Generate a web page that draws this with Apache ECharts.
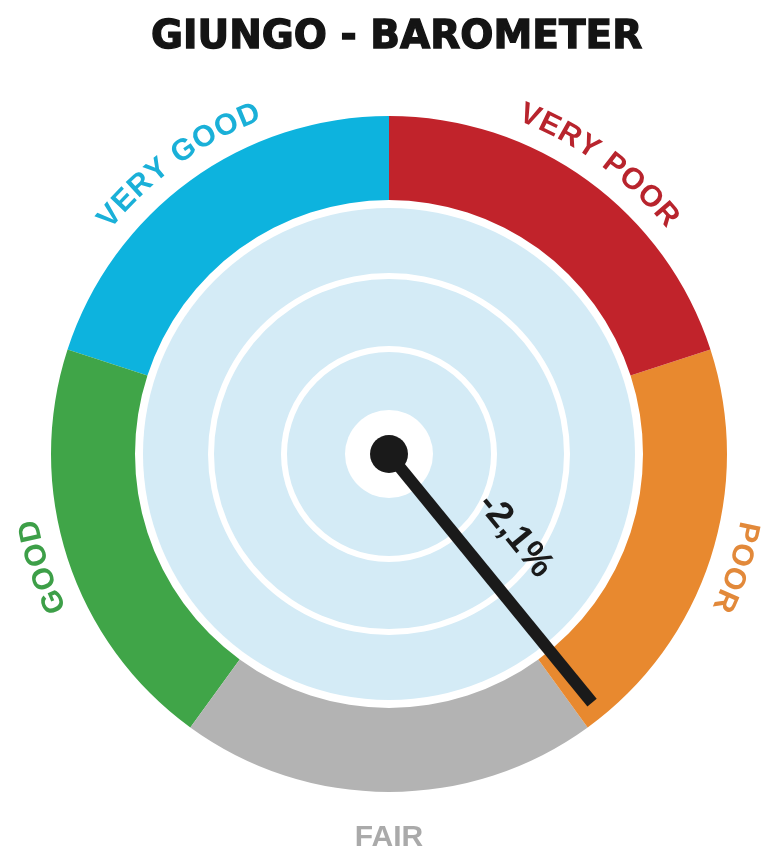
<!DOCTYPE html>
<html>
<head>
<meta charset="utf-8">
<script src="https://cdn.jsdelivr.net/npm/echarts@6/dist/echarts.min.js"></script>
<style>
html,body{margin:0;padding:0;background:#fff;}
#chart{width:765px;height:848px;}
</style>
</head>
<body>
<div id="chart"></div>
<script>
// ---- data ----
const titleText = 'GIUNGO - BAROMETER';
const categories = ['VERY POOR', 'POOR', 'FAIR', 'GOOD', 'VERY GOOD'];
const bandShares = [1, 1, 1, 1, 1];
const bandColors = ['#c1232b', '#e8892f', '#b3b3b3', '#40a548', '#0db3de'];
const labelColors = ['#b8242d', '#e2893a', '#aaaaaa', '#3d9f48', '#1ab0d8'];
const needleValue = 1.955;          // position on the 0–5 dial scale
const needleLabel = '-2,1%';
const ringRadii = [105, 178];       // white concentric guide rings

// ---- layout ----
const CX = 389, CY = 454;
const R_OUT = 338, R_IN = 254, R_DISK = 246, R_HUB = 44;
const LABEL_R = 366;
const labelFont = 'bold 30px "Liberation Sans", Arial, sans-serif';

const chart = echarts.init(document.getElementById('chart'));

const total = bandShares.reduce((a, b) => a + b, 0);
let acc = 0;
const stops = bandShares.map((v, i) => { acc += v; return [acc / total, bandColors[i]]; });

const ctx = document.createElement('canvas').getContext('2d');
ctx.font = labelFont;

function curvedText(text, midDeg, r, color) {
  const spacing = 1.5;
  const widths = Array.from(text).map(ch => ctx.measureText(ch).width + spacing);
  const totalW = widths.reduce((a, b) => a + b, 0) - spacing;
  const els = [];
  let pos = 0;
  Array.from(text).forEach((ch, i) => {
    const c = pos + (widths[i] - spacing) / 2;
    pos += widths[i];
    const a = midDeg * Math.PI / 180 + (totalW / 2 - c) / r;
    els.push({
      type: 'text',
      z: 100,
      x: CX + r * Math.cos(a),
      y: CY - r * Math.sin(a),
      rotation: a - Math.PI / 2,
      silent: true,
      style: {
        text: ch, fill: color, font: labelFont,
        align: 'center', verticalAlign: 'middle'
      }
    });
  });
  return els;
}

const graphics = [];
acc = 0;
categories.forEach((name, i) => {
  const startFrac = acc / total;
  acc += bandShares[i];
  const midFrac = (startFrac + acc / total) / 2;
  const midDeg = 90 - midFrac * 360;
  if (name === 'FAIR') {
    const a = midDeg * Math.PI / 180;
    graphics.push({
      type: 'text',
      z: 100,
      x: CX + (LABEL_R + 18) * Math.cos(a),
      y: CY - (LABEL_R + 18) * Math.sin(a),
      silent: true,
      style: { text: name, fill: labelColors[i], font: labelFont, align: 'center', verticalAlign: 'middle' }
    });
  } else {
    graphics.push(...curvedText(name, midDeg, LABEL_R, labelColors[i]));
  }
});

// needle value label
const theta = (90 - needleValue / 5 * 360) * Math.PI / 180;
const along = 143, perp = 46;
graphics.push({
  type: 'text',
  z: 100,
  x: CX + along * Math.cos(theta) + perp * Math.cos(theta + Math.PI / 2),
  y: CY - along * Math.sin(theta) - perp * Math.sin(theta + Math.PI / 2),
  rotation: theta,
  silent: true,
  style: {
    text: needleLabel, fill: '#1a1a1a',
    font: 'bold 37px "Liberation Sans", Arial, sans-serif',
    align: 'center', verticalAlign: 'middle'
  }
});

const pieBase = {
  type: 'pie', center: [CX, CY], silent: true, startAngle: 90, z: 1,
  label: { show: false }, labelLine: { show: false },
  emphasis: { disabled: true }, animation: false
};

const series = [
  Object.assign({}, pieBase, { radius: [0, R_DISK], data: [{ value: 1, itemStyle: { color: '#d4ebf6' } }] }),
  ...ringRadii.map(r => Object.assign({}, pieBase, {
    radius: [r - 3, r + 3], data: [{ value: 1, itemStyle: { color: '#ffffff' } }]
  })),
  Object.assign({}, pieBase, { radius: [0, R_HUB], data: [{ value: 1, itemStyle: { color: '#ffffff' } }] }),
  {
    type: 'gauge',
    z: 10,
    center: [CX, CY],
    radius: R_OUT,
    startAngle: 90,
    endAngle: -270,
    min: 0,
    max: 5,
    splitNumber: 5,
    silent: true,
    animation: false,
    axisLine: { lineStyle: { width: R_OUT - R_IN, color: stops } },
    axisTick: { show: false },
    splitLine: { show: false },
    axisLabel: { show: false },
    pointer: {
      icon: 'rect',
      length: 321,
      width: 12,
      itemStyle: { color: '#1a1a1a' }
    },
    anchor: {
      show: true, showAbove: true, size: 38, icon: 'circle',
      itemStyle: { color: '#1a1a1a' }
    },
    title: { show: false },
    detail: { show: false },
    data: [{ value: needleValue }]
  }
];

chart.setOption({
  backgroundColor: '#ffffff',
  animation: false,
  title: {
    text: titleText,
    left: 146,
    top: 13,
    textStyle: {
      fontFamily: 'DejaVu Sans',
      fontWeight: 'bold',
      fontSize: 39,
      color: '#141414',
      textBorderColor: '#141414',
      textBorderWidth: 1.3
    }
  },
  series: series,
  graphic: graphics
});
</script>
</body>
</html>
